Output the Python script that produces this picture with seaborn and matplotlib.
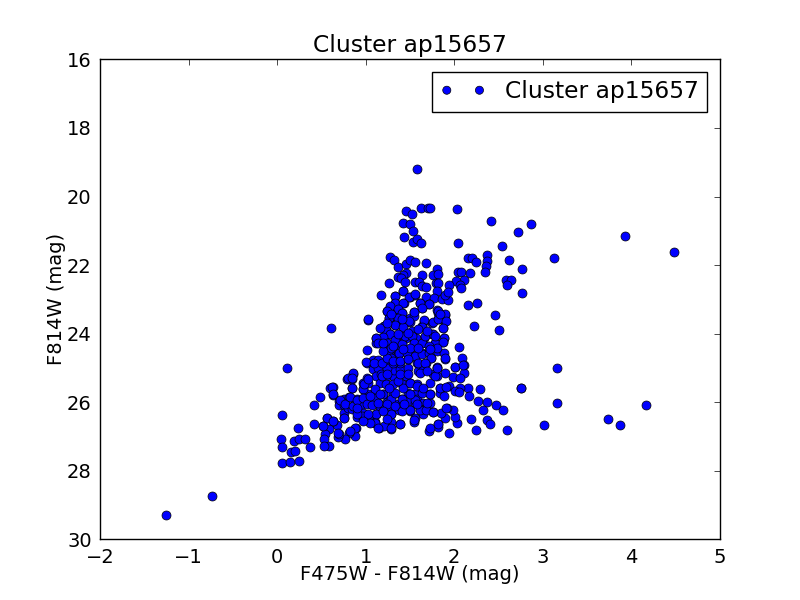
#!/usr/bin/env python3
"""Colour-magnitude diagram for cluster ap15657."""

import matplotlib
matplotlib.use("Agg")
import matplotlib.pyplot as plt
import pandas as pd
import seaborn as sns

# values, color and magnitude in the same order
color = [
    1.575, 1.46, 1.52, 1.62, 1.70, 1.73, 2.03, 2.41, 2.87, 2.72,
    1.42, 1.50, 1.53, 1.43, 1.53, 1.575, 1.62, 2.04, 2.54, 1.27,
    1.32, 1.36, 1.46, 1.50, 1.56, 1.68, 2.16, 2.20, 2.24, 2.37,
    2.37, 2.355, 2.35, 2.62, 2.77, 2.58, 2.64, 2.60, 2.77, 1.80,
    2.04, 2.08, 2.18, 2.11, 2.02, 2.06, 2.08, 1.94, 1.76, 1.82,
    1.64, 1.45, 1.42, 1.36, 1.40, 1.44, 1.26, 1.56, 1.60, 1.63,
    1.68, 1.79, 1.82, 1.81, 1.42, 1.17, 1.33, 1.50, 1.56, 1.68,
    1.77, 1.86, 1.93, 1.89, 1.93, 1.61, 1.71, 1.64, 1.55, 1.43,
    1.33, 1.27, 1.24, 1.37, 1.41, 1.26, 1.37, 1.50, 1.50, 1.54,
    1.80, 1.82, 1.90, 1.82, 1.90, 1.75, 1.66, 1.87, 1.63, 2.16,
    2.26, 2.46, 2.22, 2.50, 1.03, 0.61, 1.21, 1.23, 1.33, 1.42,
    1.27, 1.19, 1.12, 1.36, 1.45, 1.53, 1.66, 1.75, 1.88, 1.42,
    1.52, 0.115, 1.02, 2.05, 2.09, 2.11, 2.01, 2.11, 1.90, 1.80,
    1.99, 2.07, 2.75, 2.29, 2.15, 2.06, 1.94, 1.84, 2.17, 2.27,
    2.37, 2.47, 2.55, 2.32, 2.19, 2.37, 2.40, 2.24, 2.59, 1.94,
    1.82, 1.72, 1.82, 2.03, 2.01, 1.99, 1.92, 1.89, 1.85, 1.54,
    1.39, 1.28, 1.15, 1.11, 1.29, 1.21, 0.96, 0.90, 0.89, 0.88,
    0.81, 0.77, 0.69, 0.70, 0.68, 0.63, 0.56, 0.52, 0.59, 0.54,
    0.53, 0.59, 0.53, 0.42, 0.23, 0.04, 0.05, 0.19, 0.25, 0.32,
    0.375, 0.16, 0.20, 0.05, 0.14, 0.25, 0.05, 0.42, 0.48, 0.63,
    0.60, 0.63, 0.84, 0.79, 0.86, 0.85, 0.70, 0.70, 0.75, 0.81,
    0.90, 0.76, 0.86, 0.75, 0.76, 0.80, 0.97, 1.02, 1.03, 0.97,
    1.01, 1.09, 1.08, 1.14, 1.08, 1.14, 1.12, 1.17, 1.24, 1.32,
    1.32, 1.24, 1.39, 1.45, 1.48, 1.59, 1.65, 1.68, 1.58, 1.48,
    1.39, 1.31, 1.24, 1.27, 1.39, 1.47, 1.56, 1.63, 1.71, 1.74,
    1.80, 1.88, 1.90, 1.78, 1.87, 1.73, 1.63, 1.54, 1.41, 1.31,
    1.22, 1.12, 1.26, 1.37, 1.29, 1.57, 1.16, 1.23, 1.31, 1.41,
    1.50, 1.58, 1.64, 1.73, 1.73, 1.76, 1.80, 1.84, 2.01, 2.05,
    1.56, 1.48, 1.41, 1.31, 1.19, 1.10, 1.03, 0.99, 1.07, 1.14,
    1.24, 1.33, 1.41, 1.48, 1.58, 1.56, 1.65, 1.73, 1.67, 1.61,
    1.50, 1.38, 1.27, 1.16, 1.12, 1.04, 1.11, 1.29, 1.76, 1.65,
    1.56, 0.94, 0.97, 0.84, 1.09, -1.25, -0.74, 3.13, 3.93, 4.48,
    3.16, 3.16, 3.01, 3.73, 3.87, 4.16, 2.75,
    # second pass over the dense upper clump
    1.33, 1.42, 1.49, 1.56, 1.61, 1.71, 1.64, 1.55, 1.33, 1.42,
    1.27, 1.24, 1.37, 1.41, 1.26, 1.37, 1.49, 1.66, 1.76, 1.82,
    1.90, 1.82, 1.91, 1.87, 1.63, 1.03, 1.21, 1.23, 1.33, 1.42,
    1.27, 1.19, 1.12, 1.14, 1.24, 1.33, 1.41, 1.44, 1.52, 1.54,
    1.63, 1.67, 1.76, 1.88, 1.78, 1.87, 1.29, 1.38, 1.47, 1.56,
    1.63, 1.71, 1.74, 1.80, 1.90, 1.00, 1.09, 1.18, 1.24, 1.31,
    1.39, 1.48, 1.59, 1.67, 1.80, 2.01, 2.10, 1.37, 1.48, 1.41,
    1.29, 1.78, 1.31, 1.50, 1.71, 1.20, 1.42, 1.59, 1.84,
    1.59, 1.69, 1.16, 1.24, 1.73, 1.20,
    # second pass over the dense lower clump
    0.86, 0.80, 0.85, 0.62, 0.63, 0.84, 0.97, 0.98, 1.03, 1.10,
    1.20, 1.29, 1.41, 1.33, 1.42, 1.50, 1.58, 1.63, 1.73, 1.84,
    1.91, 1.78, 1.80, 1.88, 0.71, 0.77, 0.86, 0.82, 0.90, 0.97,
    1.01, 1.07, 1.14, 1.24, 1.33, 1.41, 1.50, 1.61, 1.68, 1.76,
    1.69, 1.56, 1.58, 1.12, 0.96, 0.90, 0.75, 1.29, 1.10, 1.14,
    1.28, 1.39, 1.54, 1.73, 1.82, 1.91, 0.56, 0.63, 0.52, 0.88,
    0.82, 0.69, 1.24, 1.03, 1.20, 1.05, 0.97,
    0.90, 1.05, 1.26, 1.50, 1.65, 1.43, 1.16, 1.37, 1.18, 1.24,
    1.39, 1.48, 1.61, 1.69,
]
f814w = [
    19.19, 20.41, 20.50, 20.33, 20.33, 20.33, 20.36, 20.70, 20.79, 21.03,
    20.76, 20.79, 21.00, 21.17, 21.32, 21.23, 21.35, 21.35, 21.43, 21.75,
    21.84, 22.05, 21.96, 21.84, 21.90, 21.93, 21.78, 21.78, 21.90, 21.70,
    21.87, 22.02, 22.19, 21.84, 22.10, 22.42, 22.42, 22.57, 22.80, 22.10,
    22.19, 22.19, 22.22, 22.42, 22.45, 22.57, 22.66, 22.57, 22.28, 22.25,
    22.28, 22.22, 22.28, 22.34, 22.37, 22.48, 22.51, 22.48, 22.48, 22.60,
    22.63, 22.51, 22.51, 22.75, 22.75, 22.86, 22.89, 22.92, 22.86, 22.92,
    22.95, 22.98, 23.01, 22.86, 22.77, 23.10, 23.12, 23.24, 23.36, 23.10,
    23.10, 23.21, 23.33, 23.27, 23.39, 23.53, 23.53, 23.53, 23.65, 23.48,
    23.30, 23.39, 23.45, 23.56, 23.62, 23.68, 23.62, 23.82, 23.79, 23.15,
    23.10, 23.45, 23.79, 23.88, 23.59, 23.82, 23.77, 23.88, 23.74, 23.79,
    24.00, 24.09, 24.12, 24.12, 24.12, 24.07, 24.12, 24.00, 24.12, 23.97,
    23.92, 24.99, 24.47, 24.38, 24.70, 24.90, 24.96, 25.14, 25.14, 24.99,
    25.25, 25.29, 25.57, 25.60, 25.57, 25.57, 25.52, 25.57, 25.81, 25.95,
    25.98, 26.07, 26.22, 26.22, 26.48, 26.51, 26.62, 26.80, 26.80, 26.89,
    26.62, 26.83, 26.71, 26.60, 26.42, 26.22, 26.16, 26.45, 26.30, 26.57,
    26.62, 26.77, 26.74, 26.60, 26.57, 26.69, 26.42, 26.42, 26.74, 26.97,
    26.89, 27.06, 27.00, 26.92, 26.65, 26.54, 26.45, 26.68, 26.77, 26.92,
    27.06, 27.27, 27.27, 26.62, 26.74, 27.06, 27.30, 27.12, 27.06, 27.06,
    27.30, 27.44, 27.41, 27.76, 27.73, 27.70, 26.36, 26.07, 25.84, 25.55,
    25.57, 25.78, 25.57, 25.31, 25.17, 25.31, 25.95, 26.07, 25.90, 25.84,
    25.90, 26.07, 26.10, 26.30, 26.45, 26.16, 25.60, 25.28, 25.43, 25.43,
    24.85, 24.90, 24.77, 24.77, 25.04, 24.99, 25.23, 25.19, 25.23, 25.25,
    25.06, 24.99, 25.04, 25.23, 24.99, 25.09, 25.06, 24.85, 24.85, 24.75,
    24.85, 24.85, 24.73, 24.51, 24.48, 24.55, 24.63, 24.57, 24.53, 24.70,
    24.51, 24.57, 24.73, 24.26, 24.24, 24.41, 24.28, 24.28, 24.28, 24.34,
    24.28, 24.26, 24.48, 24.63, 24.70, 24.12, 25.43, 25.46, 25.48, 25.48,
    25.43, 25.48, 25.65, 25.75, 25.43, 25.19, 25.23, 25.72, 25.67, 25.70,
    25.75, 25.72, 25.90, 25.77, 25.77, 25.67, 25.77, 25.96, 26.06, 26.01,
    25.99, 26.06, 26.13, 25.96, 25.91, 26.03, 26.01, 26.03, 26.21, 26.21,
    26.25, 26.24, 26.19, 26.21, 26.33, 26.40, 26.58, 26.35, 26.28, 26.35,
    26.45, 26.11, 26.30, 26.21, 25.87, 29.28, 28.74, 21.80, 21.16, 21.62,
    24.99, 26.02, 26.65, 26.50, 26.67, 26.08, 25.58,
    # second pass over the dense upper clump
    22.90, 22.76, 22.92, 22.85, 23.10, 23.12, 23.24, 23.36, 23.10, 23.10,
    23.19, 23.34, 23.29, 23.39, 23.53, 23.53, 23.63, 23.61, 23.66, 23.34,
    23.44, 23.56, 23.63, 23.83, 23.80, 23.58, 23.78, 23.89, 23.75, 23.80,
    24.02, 24.09, 24.14, 24.26, 24.26, 24.17, 24.29, 24.07, 24.07, 24.26,
    24.26, 24.07, 24.00, 24.12, 24.26, 24.23, 24.41, 24.55, 24.55, 24.65,
    24.60, 24.55, 24.70, 24.41, 24.72, 24.83, 24.85, 24.85, 24.70, 24.80,
    24.80, 24.75, 24.85, 24.85, 24.96, 24.96, 24.90, 24.02, 23.97, 23.58,
    23.44, 24.07, 24.36, 24.41, 24.36, 24.51, 24.46, 24.41, 23.44,
    23.87, 23.92, 23.82, 23.68, 24.46, 24.26,
    # second pass over the dense lower clump
    25.14, 25.28, 25.30, 25.55, 25.77, 25.58, 25.60, 25.46, 25.33, 25.62,
    25.77, 25.90, 25.90, 25.72, 25.58, 25.43, 25.53, 25.72, 25.77, 25.58,
    25.55, 25.24, 24.99, 25.82, 25.92, 26.06, 26.11, 25.85, 25.92, 25.87,
    26.06, 26.08, 26.01, 26.06, 26.11, 26.26, 26.23, 26.23, 26.23, 26.28,
    26.01, 25.92, 26.06, 26.33, 26.40, 26.35, 26.45, 26.35, 26.60, 26.74,
    26.74, 26.62, 26.53, 26.74, 26.62, 26.16, 26.45, 26.55, 26.69, 26.74,
    26.84, 26.89, 26.50, 26.35, 26.26, 26.60, 26.55,
    26.16, 25.82, 25.58, 25.77, 25.58, 26.06, 25.77, 25.38, 25.23, 25.19,
    25.19, 25.19, 25.14, 25.09,
]
name = "Cluster ap15657"
x_ticks = [-2, -1, 0, 1, 2, 3, 4, 5]
y_ticks = [16, 18, 20, 22, 24, 26, 28, 30]

sns.set_theme(style="white", rc={"font.family": "DejaVu Sans"})

data = pd.DataFrame({"color": color, "f814w": f814w})

fig, ax = plt.subplots(figsize=(8, 6), dpi=100)
fig.subplots_adjust(left=0.125, right=0.9, top=0.901, bottom=0.101)
sns.scatterplot(data=data, x="color", y="f814w", color="#0000ff", edgecolor="black",
                linewidth=0.5, s=42, label=name, ax=ax, zorder=3)

ax.set_xlim(-2, 5)
ax.set_ylim(30, 16)
ax.set_xticks(x_ticks)
ax.set_yticks(y_ticks)
ax.tick_params(direction="in", length=4, width=0.5, top=True, right=True,
               labelsize=14, colors="black")
ax.tick_params(axis="x", pad=6)
ax.tick_params(axis="y", pad=6)
for spine in ax.spines.values():
    spine.set_color("black")
    spine.set_linewidth(1)

ax.set_title(name, fontsize=16.8, color="black", pad=5)
ax.set_xlabel("F475W - F814W (mag)", fontsize=14, color="black", labelpad=-1)
ax.set_ylabel("F814W (mag)", fontsize=14, color="black", labelpad=1)
ax.legend(loc="upper right", scatterpoints=2, scatteryoffsets=[0.5], fontsize=16.8,
          fancybox=False, framealpha=1, edgecolor="black", labelcolor="black",
          borderpad=0.35, markerscale=0.9, borderaxespad=0.55)

fig.savefig("out.png", dpi=100)
